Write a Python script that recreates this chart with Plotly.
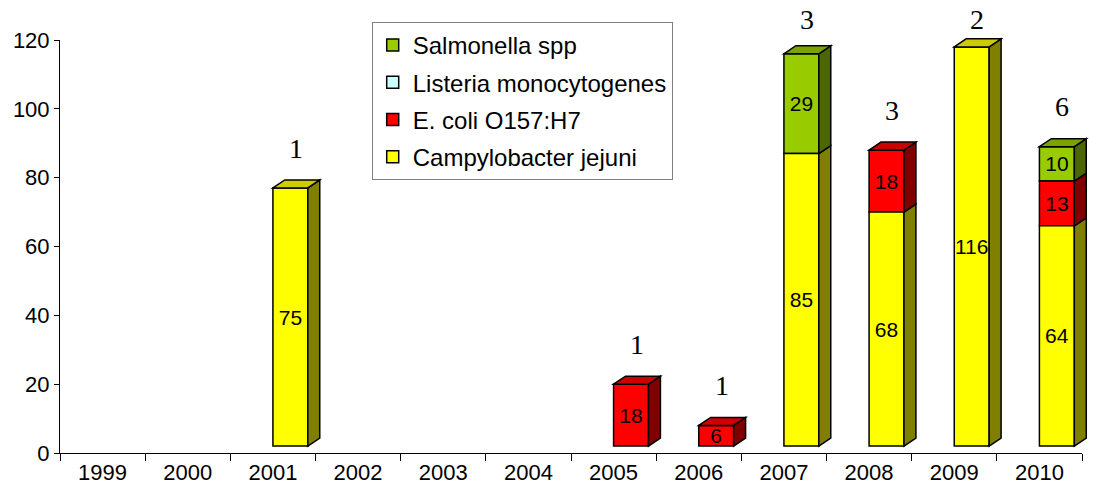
import plotly.graph_objects as go

# ---- data ----
years = ['1999', '2000', '2001', '2002', '2003', '2004',
         '2005', '2006', '2007', '2008', '2009', '2010']
campylobacter = [0, 0, 75, 0, 0, 0, 0, 0, 85, 68, 116, 64]
ecoli = [0, 0, 0, 0, 0, 0, 18, 6, 0, 18, 0, 13]
listeria = [0, 0, 0, 0, 0, 0, 0, 0, 0, 0, 0, 0]
salmonella = [0, 0, 0, 0, 0, 0, 0, 0, 29, 0, 0, 10]
outbreaks = [None, None, 1, None, None, None, 1, 1, 3, 3, 2, 6]

# stacking order (bottom -> top): name, values, front, side, top colours
series = [
    ("Campylobacter jejuni", campylobacter, "#FFFF00", "#808000", "#CCCC00"),
    ("E. coli O157:H7", ecoli, "#FF0000", "#800000", "#CC0000"),
    ("Listeria monocytogenes", listeria, "#CCFFFF", "#668080", "#A3CCCC"),
    ("Salmonella spp", salmonella, "#99CC00", "#4C6600", "#7AA300"),
]

# ---- style constants ----
FLOOR = 2.0      # bars sit slightly above the axis (3D floor)
BAR_OFF = 0.0    # left edge of front face, relative to category centre
BAR_W = 0.41     # width of front face (category units)
DX = 0.14        # depth offset in x (category units)
DY = 2.33        # depth offset in y (value units)
YMAX = 120
N = len(years)

def fx(x):
    return (x + 0.5) / N

def fy(y):
    return y / YMAX

fig = go.Figure()
shapes = []
cum = [0.0] * N
tops = [None] * N
traces = []

for name, vals, front, side, top in series:
    bases = [FLOOR + c for c in cum]
    ys = [v if v > 0 else None for v in vals]
    txt = [str(v) if v > 0 else "" for v in vals]
    traces.append(go.Bar(
        x=years, y=ys, base=bases, name=name,
        offset=BAR_OFF, width=BAR_W,
        marker=dict(color=front, line=dict(color="black", width=1.5)),
        text=txt, textposition="inside", insidetextanchor="middle",
        textangle=0,
        textfont=dict(family="Arial", size=21, color="black"),
        constraintext="none", legendgroup=name, hoverinfo="skip",
    ))
    for i, v in enumerate(vals):
        if v > 0:
            y0 = FLOOR + cum[i]
            y1 = y0 + v
            xr = i + BAR_OFF + BAR_W
            path = (f"M{fx(xr)},{fy(y0)} L{fx(xr + DX)},{fy(y0 + DY)} "
                    f"L{fx(xr + DX)},{fy(y1 + DY)} L{fx(xr)},{fy(y1)} Z")
            shapes.append(dict(type="path", path=path, xref="x domain", yref="y domain",
                               fillcolor=side, line=dict(color="black", width=1.5),
                               layer="above"))
            tops[i] = (y1, top)
    cum = [c + v for c, v in zip(cum, vals)]

# legend lists the top series first
for tr in reversed(traces):
    fig.add_trace(tr)

for i, t in enumerate(tops):
    if t is None:
        continue
    yt, col = t
    xl = i + BAR_OFF
    xr = xl + BAR_W
    path = (f"M{fx(xl)},{fy(yt)} L{fx(xl + DX)},{fy(yt + DY)} "
            f"L{fx(xr + DX)},{fy(yt + DY)} L{fx(xr)},{fy(yt)} Z")
    shapes.append(dict(type="path", path=path, xref="x domain", yref="y domain",
                       fillcolor=col, line=dict(color="black", width=1.5),
                       layer="above"))

annotations = []
for i, n in enumerate(outbreaks):
    if n is None:
        continue
    ytop = FLOOR + cum[i]
    annotations.append(dict(
        x=i, y=fy(min(ytop + 11.6, 126)), xref="x", yref="paper",
        xanchor="center", yanchor="middle",
        text=str(n), showarrow=False, xshift=23,
        font=dict(family="Liberation Serif", size=28, color="black"),
    ))

fig.update_layout(
    width=1097, height=492,
    margin=dict(l=60, r=15, t=40, b=39),
    plot_bgcolor="white", paper_bgcolor="white",
    barmode="overlay",
    shapes=shapes, annotations=annotations,
    font=dict(family="Arial", size=22, color="black"),
    legend=dict(
        x=0.305, y=1.0436, xanchor="left", yanchor="top",
        bordercolor="#808080", borderwidth=1, bgcolor="white",
        font=dict(family="Arial", size=24, color="black"),
        traceorder="grouped", tracegroupgap=3,
    ),
    xaxis=dict(
        type="category", range=[-0.5, N - 0.5], automargin=False,
        showline=True, linecolor="black", linewidth=1,
        ticks="outside", tickson="boundaries", ticklen=7, tickcolor="black",
        showgrid=False, zeroline=False,
        tickfont=dict(family="Arial", size=22, color="black"),
    ),
    yaxis=dict(
        range=[0, YMAX], tick0=0, dtick=20, automargin=False,
        showline=True, linecolor="black", linewidth=1,
        ticks="outside", ticklen=5, tickcolor="black",
        showgrid=False, zeroline=False,
        tickfont=dict(family="Arial", size=22, color="black"),
    ),
)

fig.write_html("out.html", config={"displayModeBar": False},
               post_script="document.body.style.margin='0px';")
